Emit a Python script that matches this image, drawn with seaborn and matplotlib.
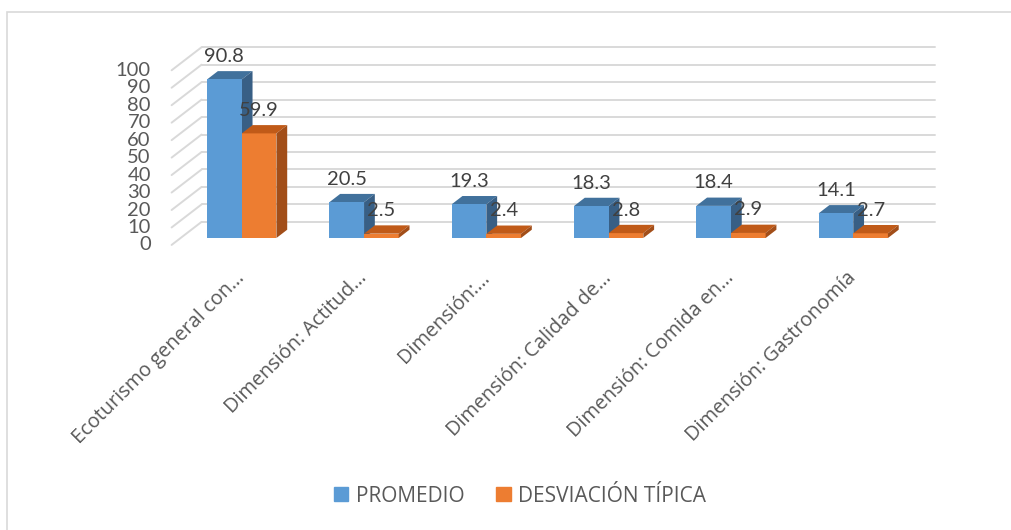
import pandas as pd
import matplotlib
matplotlib.use('Agg')
import matplotlib.pyplot as plt
from matplotlib.patches import Polygon, Patch, Rectangle
import seaborn as sns

# --- data ---
categorias = ["Ecoturismo general con…", "Dimensión: Actitud…", "Dimensión:…",
              "Dimensión: Calidad de…", "Dimensión: Comida en…", "Dimensión: Gastronomía"]
promedio = [90.8, 20.5, 19.3, 18.3, 18.4, 14.1]
desviacion = [59.9, 2.5, 2.4, 2.8, 2.9, 2.7]
series = ["PROMEDIO", "DESVIACIÓN TÍPICA"]
y_ticks = list(range(0, 101, 10))

df = pd.DataFrame({
    'categoria': categorias * 2,
    'valor': promedio + desviacion,
    'serie': [series[0]] * len(promedio) + [series[1]] * len(desviacion),
})

# front / top / side colours per series
colores = {series[0]: ('#5B9BD5', '#41719C', '#385F85'),
           series[1]: ('#ED7D31', '#C05A18', '#A24E19')}

# fake 3D: floor depth in (category units, value units)
DX, DY = 0.245, 13.2
FRENTE = 0.3    # bars sit this far back on the floor
FONDO = 0.36    # bar depth as share of floor depth
GRIS = '#D9D9D9'

sns.set_style('white')
plt.rcParams['font.family'] = ['Lato', 'DejaVu Sans']

fig = plt.figure(figsize=(10.12, 5.30), dpi=100)
ax = fig.add_axes([143.9 / 1012, (530 - 248.5) / 530, 807.2 / 1012, 206.1 / 530])

# front faces of the bars
sns.barplot(data=df, x='categoria', y='valor', hue='serie',
            palette=[c[0] for c in colores.values()], width=0.567,
            saturation=1, linewidth=0, legend=False, ax=ax, zorder=3)

ax.set_xlim(-0.8, 5.8)
ax.set_ylim(-6, 112)

# back wall and side wall grid + value labels
izq, der = -0.5, len(categorias) - 0.5
for v in y_ticks:
    ax.plot([izq + (1 - FRENTE) * DX, der + (1 - FRENTE) * DX],
            [v + (1 - FRENTE) * DY] * 2, color=GRIS, lw=1.4, zorder=1, clip_on=False)
    ax.plot([izq - FRENTE * DX, izq + (1 - FRENTE) * DX],
            [v - FRENTE * DY, v + (1 - FRENTE) * DY], color=GRIS, lw=1.4, zorder=1, clip_on=False)
    ax.annotate(str(v), xy=(izq - FRENTE * DX, v - FRENTE * DY), xytext=(-15, 0),
                textcoords='offset points', ha='right', va='center',
                fontsize=14.5, color='#595959', annotation_clip=False)

# tops, sides and data labels
dx, dy = FONDO * DX, FONDO * DY
for cont, serie in zip(ax.containers, series):
    _, c_top, c_side = colores[serie]
    z = 2.5 if serie == series[0] else 3.5
    for bar in cont:
        x0, w, h = bar.get_x(), bar.get_width(), bar.get_height()
        ax.add_patch(Polygon([(x0, h), (x0 + w, h), (x0 + w + dx, h + dy), (x0 + dx, h + dy)],
                             closed=True, fc=c_top, ec='none', zorder=z))
        ax.add_patch(Polygon([(x0 + w, 0), (x0 + w + dx, dy), (x0 + w + dx, h + dy), (x0 + w, h)],
                             closed=True, fc=c_side, ec='none', zorder=z))
        ax.annotate(f'{h:.1f}', xy=(x0 + w / 2, h), xytext=(0, 12.6),
                    textcoords='offset points', ha='center', va='baseline',
                    fontsize=14.5, color='#404040', zorder=6)

ax.set_xticks(range(len(categorias)))
ax.set_xticklabels(categorias, rotation=45, ha='right', va='center',
                   rotation_mode='anchor', fontsize=14.3, color='#595959',
                   family=['Open Sans', 'DejaVu Sans'])
ax.tick_params(axis='x', length=0, pad=19)
ax.set_yticks([])
ax.set_xlabel('')
ax.set_ylabel('')
for s in ax.spines.values():
    s.set_visible(False)

# legend
handles = [Patch(color=colores[s][0]) for s in series]
fig.legend(handles, series, loc='center', bbox_to_anchor=(520 / 1012, (530 - 496) / 530),
           ncol=2, frameon=False, handlelength=0.68, handleheight=0.68,
           handletextpad=0.34, columnspacing=1.55, labelcolor='#595959',
           prop={'family': ['Open Sans', 'DejaVu Sans'], 'size': 15})

# chart area frame
fig.add_artist(Rectangle((7 / 1012, -0.1), 1.2, (530 - 12) / 530 + 0.1,
                         transform=fig.transFigure, fill=False, ec=GRIS, lw=1.2))

fig.savefig('out.png', dpi=100)
